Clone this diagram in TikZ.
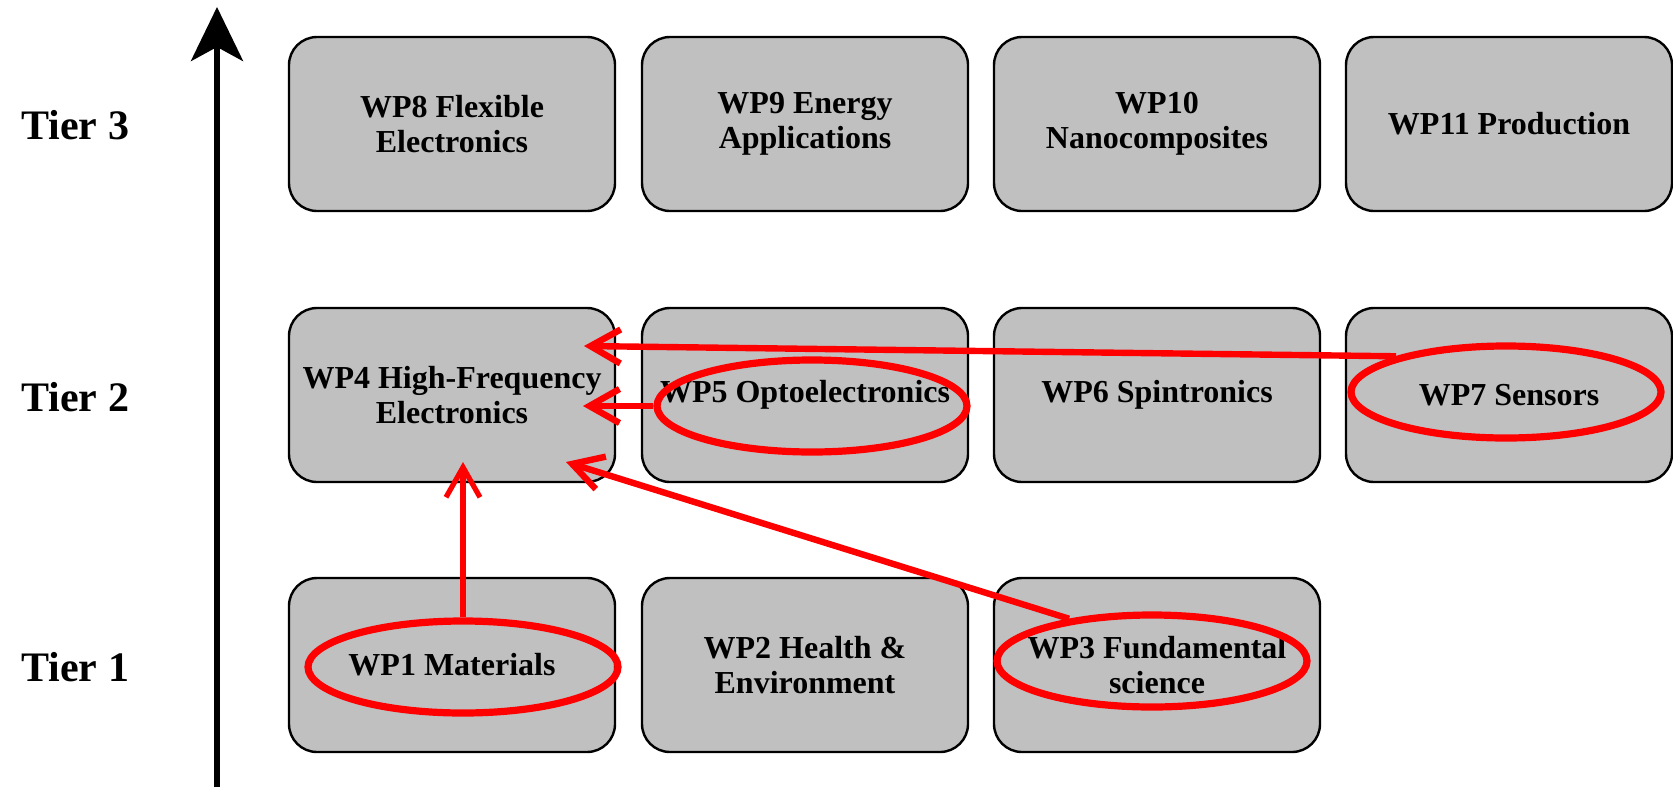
\documentclass[tikz,border=0pt]{standalone}
\usepackage{fontspec}
\setmainfont{Liberation Serif}
\usetikzlibrary{arrows.meta,shapes.geometric}
\definecolor{boxgray}{RGB}{192,192,192}
\begin{document}
\begin{tikzpicture}[x=0.5pt,y=-0.5pt,
  wpbox/.style={draw=black,line width=1.2pt,fill=boxgray,rounded corners=14pt,minimum width=163pt,minimum height=87pt,align=center,font=\fontsize{16}{17.5}\selectfont\bfseries,inner sep=2pt},
  tier/.style={anchor=west,font=\fontsize{21}{24}\selectfont\bfseries,inner sep=0pt},
  ring/.style={draw=red,line width=3.6pt,ellipse,minimum width=155pt,minimum height=46pt,inner sep=0pt},
  redarrow/.style={draw=red,line width=3.2pt,-{Straight Barb[length=15pt,width=17pt]}},
]
\useasboundingbox (0,0) rectangle (1673,787);
% axis
\coordinate (abot) at (217,787);
\coordinate (atop) at (217,7);
\draw[line width=3pt,-{Stealth[length=27pt,width=26pt,inset=7pt]}] (abot) -- (atop);
% tier labels
\node[tier] (tier3) at (21,125) {Tier 3};
\node[tier] (tier2) at (21,397) {Tier 2};
\node[tier] (tier1) at (21,667) {Tier 1};
% boxes
\node[wpbox] (wp8) at (452,124) {WP8 Flexible\\Electronics};
\node[wpbox] (wp9) at (805,124) {WP9 Energy\\Applications};
\node[wpbox] (wp10) at (1157,124) {WP10\\Nanocomposites};
\node[wpbox] (wp11) at (1509,124) {WP11 Production};
\node[wpbox] (wp4) at (452,395) {WP4 High-Frequency\\Electronics};
\node[wpbox] (wp5) at (805,395) {WP5 Optoelectronics};
\node[wpbox] (wp6) at (1157,395) {WP6 Spintronics};
\node[wpbox] (wp7) at (1509,395) {WP7 Sensors};
\node[wpbox] (wp1) at (452,665) {WP1 Materials};
\node[wpbox] (wp2) at (805,665) {WP2 Health \&\\Environment};
\node[wpbox] (wp3) at (1157,665) {WP3 Fundamental\\science};
% rings
\node[ring] (e1) at (463,667) {};
\node[ring] (e5) at (812,406) {};
\node[ring] (e7) at (1506,392) {};
\node[ring] (e3) at (1152,661) {};
% arrow targets
\coordinate (t1) at (463,462);
\coordinate (t3) at (566,462);
\coordinate (t7) at (584,346);
\coordinate (t5) at (583,406);
\draw[redarrow,line width=2.6pt] (e1.north) -- (t1);
\draw[redarrow] (e3.153) -- (t3);
\draw[redarrow] (e7.162) -- (t7);
\draw[redarrow] (e5.west) -- (t5);
\end{tikzpicture}
\end{document}
